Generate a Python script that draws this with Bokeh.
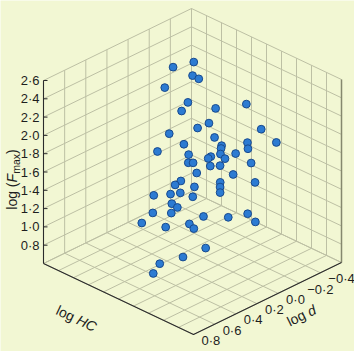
import numpy as np
from bokeh.plotting import figure
from bokeh.models import ColumnDataSource, Range1d
from bokeh.core.properties import value
from bokeh.embed import file_html
from bokeh.resources import INLINE

# ---------------- data ----------------
log_HC = [0.572, 0.611, 0.802, 0.744, 0.715, 0.671, 0.728, 1.056, 0.964, 0.912,
          1.034, 0.546, 1.362, 0.850, 0.843, 1.295, 0.993, 1.369, 1.074, 1.364,
          0.864, 0.775, 1.123, 1.304, 1.088, 0.920, 1.389, 1.294, 0.972, 0.805,
          1.219, 1.086, 1.227, 1.273, 1.221, 1.021, 0.784, 1.013, 1.385, 1.086,
          1.285, 0.740, 1.051, 0.819, 1.101, 0.861, 1.097, 0.833, 0.758, 1.372,
          1.240, 1.569, 1.521, 0.858, 0.820, 1.277, 1.108, 1.287, 1.234, 0.979, 1.035]
log_d = [-0.020, -0.188, -0.041, -0.141, 0.160, -0.090, 0.010, -0.079, -0.435, -0.118,
         0.076, -0.002, -0.293, -0.215, 0.070, 0.034, -0.175, -0.158, -0.372, -0.435,
         0.335, -0.023, 0.014, 0.167, -0.102, -0.264, -0.032, -0.246, 0.120, -0.044,
         0.087, -0.100, 0.221, -0.091, -0.335, 0.225, 0.111, 0.091, 0.111, -0.100,
         0.041, 0.282, 0.344, 0.087, 0.169, 0.197, 0.312, 0.357, 0.129, 0.260,
         -0.068, -0.018, -0.125, 0.479, 0.226, 0.326, 0.164, 0.179, 0.356, 0.395, 0.496]
log_Fmax = [2.507, 2.483, 2.492, 2.378, 2.440, 2.121, 2.105, 2.211, 2.022, 1.972,
            2.075, 1.780, 1.982, 1.737, 1.820, 1.960, 1.694, 1.914, 1.612, 1.758,
            1.898, 1.628, 1.762, 1.899, 1.712, 1.505, 1.873, 1.612, 1.696, 1.538,
            1.737, 1.585, 1.740, 1.566, 1.322, 1.575, 1.376, 1.432, 1.637, 1.351,
            1.447, 1.341, 1.510, 1.289, 1.402, 1.249, 1.364, 1.227, 1.068, 1.343,
            1.098, 1.293, 1.125, 1.195, 0.993, 1.262, 1.054, 0.919, 0.900, 0.750, 0.722]

# axis limits and ticks
HC_LIM = (0.0, 2.0)
D_LIM = (0.8, -0.6)
F_LIM = (0.6, 2.6)
HC_GRID = [0.0, 0.2, 0.4, 0.6, 0.8, 1.0, 1.2, 1.4, 1.6, 1.8, 2.0]
D_GRID = [0.8, 0.6, 0.4, 0.2, 0.0, -0.2, -0.4, -0.6]
F_GRID = [0.6, 0.8, 1.0, 1.2, 1.4, 1.6, 1.8, 2.0, 2.2, 2.4, 2.6]
d_ticks = [0.8, 0.6, 0.4, 0.2, 0.0, -0.2, -0.4]
d_tick_labels = ["0·8", "0·6", "0·4", "0·2", "0·0", "−0·2", "−0·4"]
F_ticks = [0.8, 1.0, 1.2, 1.4, 1.6, 1.8, 2.0, 2.2, 2.4, 2.6]
F_tick_labels = ["0·8", "1·0", "1·2", "1·4", "1·6", "1·8", "2·0", "2·2", "2·4", "2·6"]

# ---------------- layout / style ----------------
W, H = 354, 351
ORIGIN = (43.0, 263.0)      # screen position of the (HCmin, dmax, Fmin) corner
EU = (150.0, 71.0)          # screen vector of the full log HC span
EV = (148.0, -72.0)         # screen vector of the full log d span
EW = (0.0, -183.0)          # screen vector of the full log F span
BG = "#f2f7d3"
GRID = "#bdc0a4"
DARK = "#2b2b2b"
FONT = value("Liberation Sans")


def proj(hc, d, f):
    hc, d, f = np.asarray(hc, float), np.asarray(d, float), np.asarray(f, float)
    u = (hc - HC_LIM[0]) / (HC_LIM[1] - HC_LIM[0])
    v = (d - D_LIM[0]) / (D_LIM[1] - D_LIM[0])
    w = (f - F_LIM[0]) / (F_LIM[1] - F_LIM[0])
    sx = ORIGIN[0] + EU[0] * u + EV[0] * v + EW[0] * w
    sy = ORIGIN[1] + EU[1] * u + EV[1] * v + EW[1] * w
    return sx, H - sy


p = figure(width=W, height=H, x_range=Range1d(0, W), y_range=Range1d(0, H),
           x_axis_type=None, y_axis_type=None, min_border=0,
           toolbar_location=None, output_backend="svg",
           background_fill_color=BG, border_fill_color=BG, outline_line_color=None)

hc0, hc1 = HC_LIM
d0, d1 = D_LIM
f0, f1 = F_LIM

# ---------------- grid lines on the three back planes ----------------
segs = []
for d in D_GRID:                      # left wall, vertical
    segs.append(((hc0, d, f0), (hc0, d, f1)))
for f in F_GRID:                      # left wall, horizontal
    segs.append(((hc0, d0, f), (hc0, d1, f)))
for hc in HC_GRID:                    # right wall, vertical
    segs.append(((hc, d1, f0), (hc, d1, f1)))
for f in F_GRID:                      # right wall, horizontal
    segs.append(((hc0, d1, f), (hc1, d1, f)))
for hc in HC_GRID:                    # floor
    segs.append(((hc, d0, f0), (hc, d1, f0)))
for d in D_GRID:
    segs.append(((hc0, d, f0), (hc1, d, f0)))

gx, gy = [], []
for a, b in segs:
    x, y = proj([a[0], b[0]], [a[1], b[1]], [a[2], b[2]])
    gx.append(list(x)); gy.append(list(y))
p.multi_line(gx, gy, line_color=GRID, line_width=1)

# right vertical edge
x, y = proj([hc1, hc1], [d1, d1], [f0, f1])
p.line(x, y, line_color="#85886e", line_width=1.5)

# dark axis lines: z axis and front floor edges
x, y = proj([hc0, hc0], [d0, d0], [f1, f0])
p.line(x, y, line_color=DARK, line_width=1.1)
x, y = proj([hc0, hc1, hc1], [d0, d0, d1], [f0, f0, f0])
p.line(x, y, line_color=DARK, line_width=1.1)

# z ticks and labels
tx, ty = proj([hc0] * len(F_ticks), [d0] * len(F_ticks), F_ticks)
p.segment(x0=tx, y0=ty, x1=tx + 4, y1=ty, line_color=DARK, line_width=1)
p.text(x=tx - 4, y=ty, text=F_tick_labels, text_align="right", text_baseline="middle",
       text_font=FONT, text_font_size=value("13px"), text_color="#1e1e1e")

# log d tick labels along the front-right floor edge
dx, dy = proj([hc1] * len(d_ticks), d_ticks, [f0] * len(d_ticks))
p.text(x=dx + 8, y=dy - 6, text=d_tick_labels, text_align="left", text_baseline="middle",
       text_font=FONT, text_font_size=value("13px"), text_color="#1e1e1e")


# ---------------- axis titles ----------------
def title_parts(parts, center, direction, angle):
    # parts: list of (text, width_px, style, size, perp_shift)
    total = sum(pw for _, pw, _, _, _ in parts)
    ux, uy = direction
    nx, ny = uy, -ux   # perpendicular ("down" of the text) in y-up coords
    sx = center[0] - ux * total / 2
    sy = center[1] - uy * total / 2
    for txt, pw, style, size, shift in parts:
        p.text(x=[sx + nx * shift], y=[sy + ny * shift], text=[txt], angle=angle,
               text_align="left", text_baseline="middle", text_font=FONT,
               text_font_style=style, text_font_size=value(size), text_color="#1e1e1e")
        sx += ux * pw
        sy += uy * pw


fs = 14.0
# log HC : parallel to the front-left edge (descending)
ang = -np.arctan2(EU[1], EU[0])
title_parts([("log ", 1.612 * fs, "normal", "14px", 0),
             ("HC", 1.444 * fs, "italic", "14px", 0)],
            (76, H - 318), (np.cos(ang), np.sin(ang)), ang)
# log d : parallel to the front-right edge (ascending)
ang = np.arctan2(-EV[1], EV[0])
title_parts([("log ", 1.612 * fs, "normal", "14px", 0),
             ("d", 0.556 * fs, "italic", "14px", 0)],
            (301, H - 315), (np.cos(ang), np.sin(ang)), ang)
# log (F_max) : vertical
title_parts([("log (", 1.945 * fs, "normal", "14px", 0),
             ("F", 0.62 * fs, "italic", "14px", 0),
             ("max", 1.889 * 10.5, "normal", "10.5px", 4),
             (")", 0.333 * fs, "normal", "14px", 0)],
            (11, H - 179), (0.0, 1.0), np.pi / 2)

# ---------------- data points ----------------
px, py = proj(log_HC, log_d, log_Fmax)
src = ColumnDataSource(dict(x=px, y=py, hc=log_HC, d=log_d, f=log_Fmax))
p.scatter("x", "y", source=src, size=7.8, fill_color="#2c7bd2",
          line_color="#184a8e", line_width=1)

open("out.html", "w").write(file_html(p, INLINE))
